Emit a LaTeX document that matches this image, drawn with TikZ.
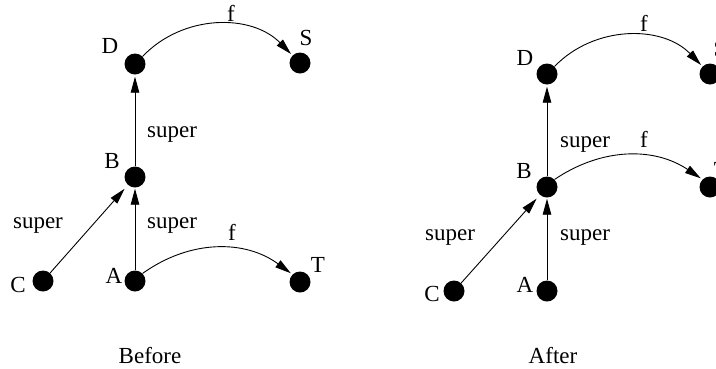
\documentclass[tikz,border=0pt]{standalone}
\usepackage{fontspec}
\setmainfont{Liberation Serif}
\usetikzlibrary{arrows.meta}
\begin{document}
\begin{tikzpicture}[x=1pt,y=-1pt,
 dot/.style={circle,fill=black,inner sep=0pt,minimum size=21pt},
 lbl/.style={anchor=base,inner sep=0pt,font=\fontsize{23}{28}\selectfont},
 arr/.style={line width=0.9pt,-{Triangle[length=16pt,width=8.5pt]}},
 arc/.style={arr,shorten >=2pt},
]
\useasboundingbox (0,0) rectangle (716,368);
% ---------- Before ----------
\node[dot] (D1) at (135,64) {};
\node[dot] (S1) at (300,63) {};
\node[dot] (B1) at (135,177) {};
\node[dot] (A1) at (135,281) {};
\node[dot] (C1) at (43,281) {};
\node[dot] (T1) at (300,282) {};
\node[lbl] (D1l) at (110,53) {D};
\node[lbl] (S1l) at (306,45) {S};
\node[lbl] (B1l) at (112,168) {B};
\node[lbl] (A1l) at (114,283) {A};
\node[lbl] (C1l) at (18,292) {C};
\node[lbl] (T1l) at (318,272) {T};
\node[lbl] (f1a) at (231,21) {f};
\node[lbl] (f1b) at (232,240) {f};
\node[lbl] (s1a) at (172,137) {super};
\node[lbl] (s1b) at (38,228) {super};
\node[lbl] (s1c) at (172,228) {super};
\node[lbl] (bef) at (150,363) {Before};
\draw[arr,shorten >=2pt] (B1) -- (D1);
\draw[arr,shorten >=1pt] (A1) -- (B1);
\draw[arr,shorten >=5pt] (C1) -- (B1);
\draw[arc] (D1.45) to[bend left=46] (S1.135);
\draw[arc] (A1.45) to[bend left=36] (T1.135);
% ---------- After ----------
\node[dot] (D2) at (547,74) {};
\node[dot] (S2) at (710,74) {};
\node[dot] (B2) at (547,187) {};
\node[dot] (T2) at (710,187) {};
\node[dot] (A2) at (547,291) {};
\node[dot] (C2) at (454,291) {};
\node[lbl] (D2l) at (525,65) {D};
\node[lbl] (S2l) at (720,56) {S};
\node[lbl] (B2l) at (524,178) {B};
\node[lbl] (T2l) at (721,177) {T};
\node[lbl] (A2l) at (525,292) {A};
\node[lbl] (C2l) at (432,301) {C};
\node[lbl] (f2a) at (644,31) {f};
\node[lbl] (f2b) at (644,147) {f};
\node[lbl] (s2a) at (585,147) {super};
\node[lbl] (s2b) at (450,240) {super};
\node[lbl] (s2c) at (585,240) {super};
\node[lbl] (aft) at (553,363) {After};
\draw[arr,shorten >=2pt] (B2) -- (D2);
\draw[arr,shorten >=1pt] (A2) -- (B2);
\draw[arr,shorten >=5pt] (C2) -- (B2);
\draw[arc] (D2.45) to[bend left=46] (S2.135);
\draw[arc] (B2.45) to[bend left=34] (T2.135);
\end{tikzpicture}
\end{document}
